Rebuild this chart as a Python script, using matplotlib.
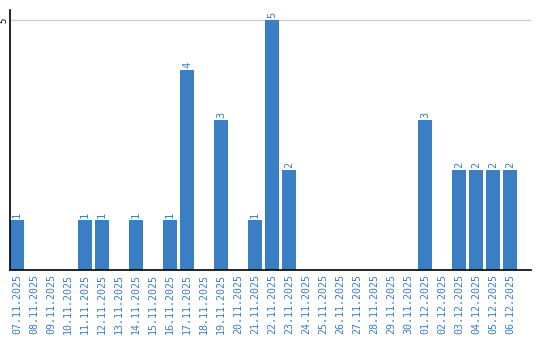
import matplotlib
matplotlib.use('Agg')
import matplotlib.pyplot as plt
import numpy as np

dates = ['07.11.2025', '08.11.2025', '09.11.2025', '10.11.2025', '11.11.2025',
         '12.11.2025', '13.11.2025', '14.11.2025', '15.11.2025', '16.11.2025',
         '17.11.2025', '18.11.2025', '19.11.2025', '20.11.2025', '21.11.2025',
         '22.11.2025', '23.11.2025', '24.11.2025', '25.11.2025', '26.11.2025',
         '27.11.2025', '28.11.2025', '29.11.2025', '30.11.2025', '01.12.2025',
         '02.12.2025', '03.12.2025', '04.12.2025', '05.12.2025', '06.12.2025']
counts = [1, 0, 0, 0, 1, 1, 0, 1, 0, 1, 4, 0, 3, 0, 1,
          5, 2, 0, 0, 0, 0, 0, 0, 0, 3, 0, 2, 2, 2, 2]

BLUE = '#3a7ec4'
W = 0.82

fig = plt.figure(figsize=(5.4, 3.4), dpi=100)
ax = fig.add_axes([10/540, 70/340, 521/540, 260/340])
x = np.arange(len(dates))
ax.bar(x, counts, width=W, align='edge', color=BLUE, zorder=2)
for xi, v in zip(x, counts):
    if v > 0:
        ax.text(xi + W/2, v + 0.04, str(v), rotation=90, ha='center', va='bottom',
                color=BLUE, fontsize=7.5, family='DejaVu Sans Mono')

ax.set_xlim(0, 30.65)
ax.set_ylim(0, 5.2)
ax.axhline(5, color='#cccccc', lw=1, zorder=1)
ax.set_xticks(x + W/2)
ax.set_xticklabels(dates, rotation=90, color=BLUE, fontsize=7.2, family='DejaVu Sans Mono')
ax.set_yticks([5])
ax.set_yticklabels(['5'], rotation=90, fontsize=6.5, family='DejaVu Sans Mono', va='center')
ax.tick_params(length=0, pad=3)
ax.tick_params(axis='y', pad=1)
for s in ['top', 'right']:
    ax.spines[s].set_visible(False)
for s in ['left', 'bottom']:
    ax.spines[s].set_linewidth(1.2)

fig.savefig('out.png', dpi=100)
